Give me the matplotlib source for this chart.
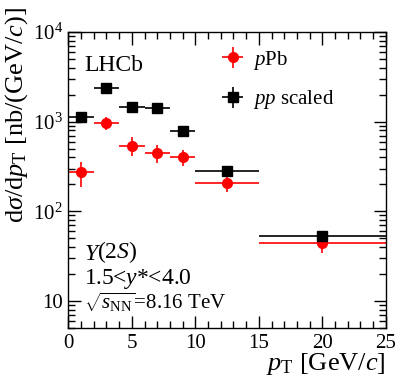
import numpy as np
import matplotlib
matplotlib.use("Agg")
import matplotlib.pyplot as plt
from matplotlib.ticker import FixedLocator, LogLocator, NullFormatter, FuncFormatter, MultipleLocator

plt.rcParams["font.family"] = "Liberation Serif"
plt.rcParams["mathtext.fontset"] = "custom"
plt.rcParams["mathtext.rm"] = "Liberation Serif"
plt.rcParams["mathtext.it"] = "Liberation Serif:italic"
plt.rcParams["mathtext.bf"] = "Liberation Serif:bold"

# bins in pT
pt_center = np.array([1.0, 3.0, 5.0, 7.0, 9.0, 12.5, 20.0])
pt_halfwidth = np.array([1.0, 1.0, 1.0, 1.0, 1.0, 2.5, 5.0])

# pPb cross-section
ppb = np.array([274, 967, 542, 449, 405, 206, 44])
ppb_err = np.array([85, 160, 125, 105, 85, 40, 10])

# pp scaled
pp = np.array([1140, 2400, 1475, 1410, 794, 279, 53])
pp_err = np.array([25, 50, 30, 30, 18, 7, 1.5])

fig = plt.figure(figsize=(4.07, 3.91), dpi=100)
ax = fig.add_axes([0.168, 0.161, 0.780, 0.757])

ax.errorbar(pt_center, ppb, xerr=pt_halfwidth, yerr=ppb_err, fmt="o",
            color="red", ms=7, elinewidth=1.2, capsize=0, label=r"$p$Pb")
ax.errorbar(pt_center, pp, xerr=pt_halfwidth, yerr=pp_err, fmt="s",
            color="black", ms=6.5, elinewidth=1.2, capsize=0, label=r"$pp$ scaled")

ax.set_yscale("log")
ax.set_xlim(0, 25)
ax.set_ylim(5, 1e4)

ax.xaxis.set_major_locator(MultipleLocator(5))
ax.xaxis.set_minor_locator(MultipleLocator(1))
ax.yaxis.set_major_locator(FixedLocator([10, 100, 1000, 10000]))
ax.yaxis.set_minor_locator(LogLocator(base=10, subs=np.arange(2, 10)))
ax.yaxis.set_minor_formatter(NullFormatter())
ylabels = {10: "10", 100: r"$10^{2}$", 1000: r"$10^{3}$", 10000: r"$10^{4}$"}
ax.yaxis.set_major_formatter(FuncFormatter(lambda v, p: ylabels.get(int(round(v)), "")))

ax.tick_params(which="both", direction="in", top=True, right=True, labelsize=15, width=1.0)
ax.tick_params(which="major", length=9, pad=4)
ax.tick_params(which="minor", length=5)
for s in ax.spines.values():
    s.set_linewidth(1.0)

ax.set_xlabel(r"$p_{\mathrm{T}}$ [GeV/$c$]", fontsize=19, loc="right", labelpad=-1)
ax.set_ylabel(r"d$\sigma$/d$p_{\mathrm{T}}$ [nb/(GeV/$c$)]", fontsize=19, loc="top")
ax.yaxis.set_label_coords(-0.12, 1.085)

ax.text(0.05, 0.87, "LHCb", transform=ax.transAxes, fontsize=17)
ups = ax.text(0.05, 0.23, "Υ", transform=ax.transAxes, fontsize=17, style="italic")
ax.annotate(r"(2$S$)", xy=(1, 0), xycoords=ups, fontsize=17, va="bottom", ha="left")
ax.text(0.05, 0.15, r"1.5<$y$*<4.0", transform=ax.transAxes, fontsize=17)
ax.text(0.05, 0.065, r"$\sqrt{s_{\mathrm{NN}}}$=8.16 TeV", transform=ax.transAxes, fontsize=15)

ax.legend(loc="upper left", bbox_to_anchor=(0.41, 1.007), frameon=False,
          fontsize=15, handlelength=1.5, handletextpad=0.2, labelspacing=0.8)

fig.savefig("out.png", dpi=100)
